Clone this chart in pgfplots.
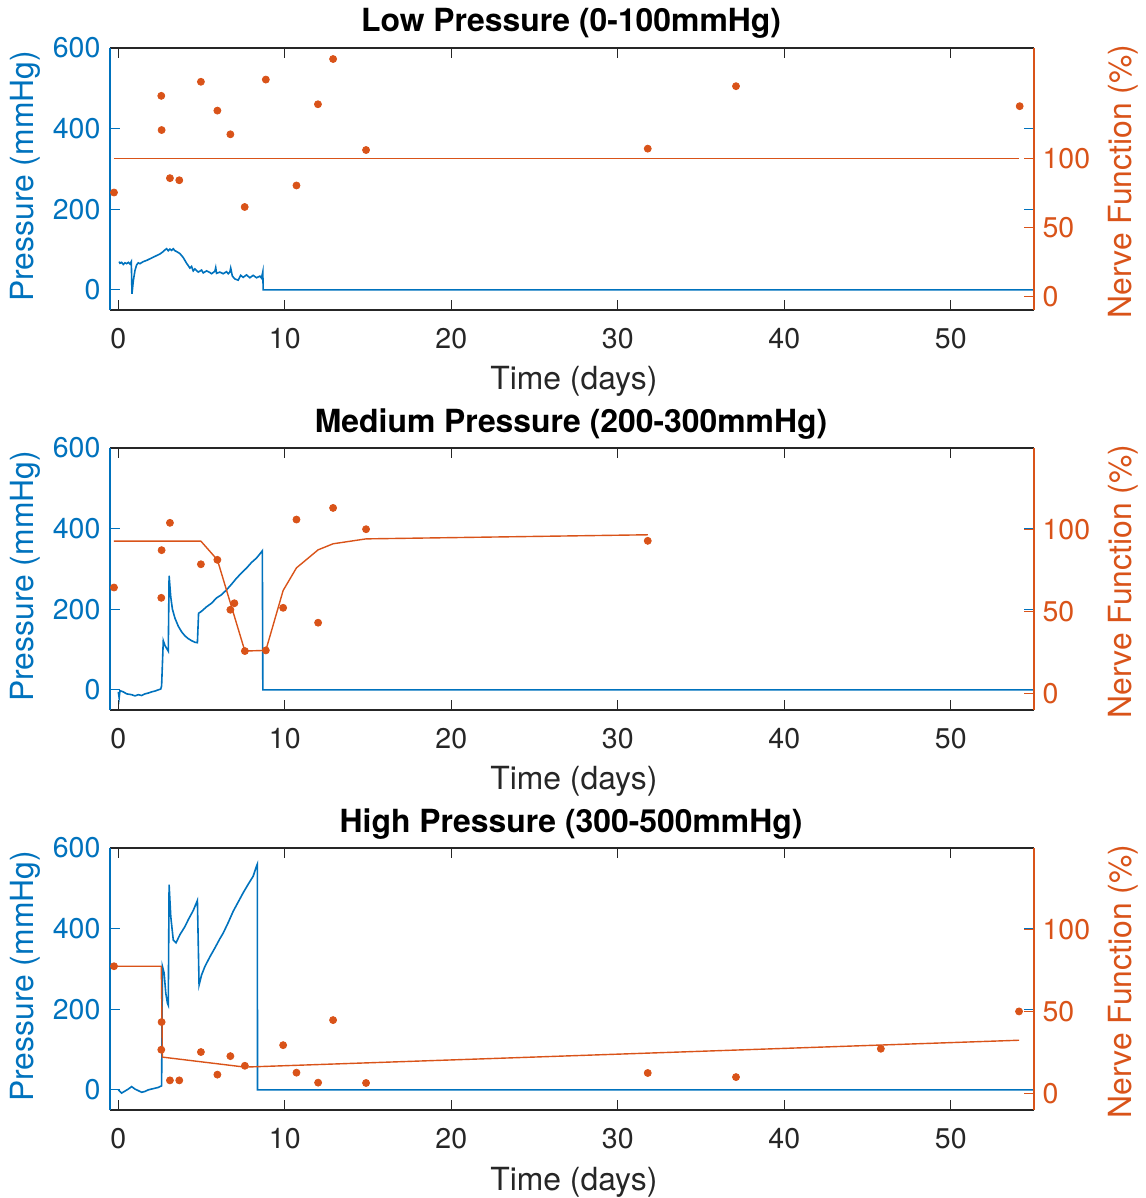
\documentclass[border=0pt]{standalone}
\usepackage{pgfplots}
\pgfplotsset{compat=1.18}
\usepackage{fontspec}
\setmainfont{TeX Gyre Heros}
\definecolor{mblue}{HTML}{0072BD}
\definecolor{morange}{HTML}{D95319}
\definecolor{mgray}{HTML}{262626}

\newcommand{\labfont}{\fontsize{16}{19}\selectfont}
\pgfplotsset{
 base/.style={
  width=462bp, height=131bp, scale only axis,
  xmin=-0.5, xmax=55,
  xtick={0,10,...,50},
  tick align=inside,
  major tick length=5bp,
  /pgf/number format/assume math mode=true,
  tick label style={font=\fontsize{14.3}{16}\selectfont},
  anchor=south west,
 },
 leftax/.style={base,
  separate axis lines,
  x axis line style={draw=mgray, line width=0.6bp, -},
  y axis line style={draw=mblue, line width=0.6bp, -},
  xtick style={draw=mgray, line width=0.6bp},
  ytick style={draw=mblue, line width=0.6bp},
  ymin=-50, ymax=600, ytick={0,200,400,600},
  ytick pos=both, yticklabel pos=left,
  yticklabel style={text=mblue},
  xticklabel style={text=mgray},
  xticklabel shift=5.5bp, yticklabel shift=1.3bp,
  xlabel={Time (days)}, ylabel={Pressure (mmHg)},
  every axis x label/.style={at={(axis description cs:0.502,0)}, anchor=base, yshift=-40bp, text=mgray, font=\labfont},
  every axis y label/.style={at={(axis description cs:-0.0833,0.51)}, rotate=90, anchor=base, text=mblue, font=\labfont},
  every axis title/.style={at={(axis description cs:0.499,1)}, anchor=base, yshift=8bp, text=black, font=\labfont\bfseries},
 },
 rightax/.style={base,
  axis y line*=right, axis x line=none,
  y axis line style={draw=morange, line width=0.6bp, -},
  ytick style={draw=morange, line width=0.6bp},
  ytick={0,50,100},
  ytick pos=right, yticklabel pos=right,
  yticklabel style={text=morange},
  yticklabel shift=0.8bp,
  ylabel={Nerve Function (\%)},
  every axis y label/.style={at={(axis description cs:1.1057,0.49)}, rotate=90, anchor=base, text=morange, font=\labfont},
 },
 pres/.style={mblue, line width=0.8bp, mark=none},
 nline/.style={morange, line width=0.7bp, mark=none},
 ndots/.style={only marks, mark=*, mark size=1.75bp, mark options={fill=morange, draw=morange}},
}

\begin{document}
\begin{tikzpicture}
% ---------------- Panel 1 ----------------
\begin{axis}[leftax, at={(55bp,444bp)}, title={Low Pressure (0-100mmHg)}]
\addplot[pres] coordinates {
(0.05,70) (0.1,66) (0.2,68) (0.3,63) (0.4,67) (0.5,65) (0.6,68) (0.7,64) (0.78,70)
(0.82,-10) (0.9,22) (1.0,48) (1.1,62) (1.2,67) (1.3,65) (1.5,70) (1.7,73) (1.9,77)
(2.1,81) (2.3,85) (2.5,89) (2.7,95) (2.8,99) (2.9,102) (3.0,97) (3.1,101) (3.2,98)
(3.3,102) (3.4,97) (3.5,95) (3.7,90) (3.9,80) (4.1,66) (4.3,54) (4.4,58) (4.5,47)
(4.6,52) (4.8,44) (5.0,49) (5.1,42) (5.3,47) (5.5,43) (5.6,40) (5.8,46) (5.85,55)
(5.9,41) (6.1,44) (6.3,40) (6.5,45) (6.6,40) (6.7,44) (6.75,54) (6.85,34) (7.0,27)
(7.2,24) (7.35,36) (7.5,31) (7.7,37) (7.9,30) (8.1,36) (8.3,30) (8.5,34) (8.6,29)
(8.68,45) (8.7,0) (55,0)
};
\end{axis}
\begin{axis}[rightax, at={(55bp,444bp)}, ymin=-10, ymax=180]
\addplot[nline] coordinates {(-0.26,100) (54.1,100)};
\addplot[ndots] coordinates {
(-0.26,75.2) (2.58,145.3) (2.6,120.5) (3.1,85.6) (3.66,84.1) (4.96,155.5)
(5.95,134.6) (6.73,117.4) (7.59,64.7) (8.86,157.1) (10.7,80.3) (11.99,139.2)
(12.9,172) (14.88,106) (31.8,107) (37.1,152.3) (54.14,137.8)
};
\end{axis}
% ---------------- Panel 2 ----------------
\begin{axis}[leftax, at={(55bp,244bp)}, title={Medium Pressure (200-300mmHg)}]
\addplot[pres] coordinates {
(0,-5) (0.05,-20) (0.1,-2) (0.3,-5) (0.5,-10) (0.8,-12) (1.0,-15) (1.2,-12) (1.4,-14)
(1.6,-10) (1.8,-8) (2.0,-5) (2.2,-3) (2.4,0) (2.55,2) (2.6,10) (2.7,122) (2.8,110)
(3.0,96) (3.05,283) (3.15,230) (3.25,200) (3.4,178) (3.6,158) (3.8,144) (4.0,134)
(4.2,127) (4.4,122) (4.6,118) (4.75,117) (4.82,190) (5.0,195) (5.3,206) (5.6,215)
(5.9,228) (6.2,236) (6.5,248) (6.8,262) (7.1,277) (7.4,290) (7.7,302) (8.0,316)
(8.3,327) (8.5,337) (8.65,345) (8.68,0) (55,0)
};
\end{axis}
\begin{axis}[rightax, at={(55bp,244bp)}, ymin=-10, ymax=150]
\addplot[nline] coordinates {
(-0.26,93.1) (4.96,93.1) (5.95,81.7) (7.6,26) (8.86,26.4) (9.9,63) (10.7,76.8)
(12.0,87.8) (12.9,91.5) (14.88,94.5) (31.8,97)
};
\addplot[ndots] coordinates {
(-0.26,64.8) (2.58,58.5) (2.6,87.6) (3.1,104.3) (4.96,79) (5.95,81.7) (6.73,51.2)
(6.97,55.2) (7.6,26) (8.86,26.4) (9.9,52.4) (10.7,106.3) (12.0,43.3) (12.9,113.4)
(14.88,100.4) (31.8,93.3)
};
\end{axis}
% ---------------- Panel 3 ----------------
\begin{axis}[leftax, at={(55bp,44bp)}, title={High Pressure (300-500mmHg)}]
\addplot[pres] coordinates {
(0,0) (0.2,-8) (0.4,-3) (0.6,2) (0.8,8) (1.0,2) (1.2,-2) (1.4,-6) (1.6,-4) (1.8,0)
(2.0,2) (2.2,4) (2.4,6) (2.6,10) (2.65,306) (2.75,290) (2.85,240) (2.95,215) (3.0,210)
(3.05,509) (3.15,430) (3.3,372) (3.47,365) (3.7,385) (4.0,405) (4.2,422) (4.5,445)
(4.75,470) (4.85,260) (5.0,285) (5.2,306) (5.5,330) (5.8,352) (6.1,375) (6.3,389)
(6.6,415) (6.9,443) (7.2,466) (7.5,489) (7.8,510) (8.1,530) (8.3,555) (8.35,560)
(8.36,0) (55,0)
};
\end{axis}
\begin{axis}[rightax, at={(55bp,44bp)}, ymin=-10, ymax=150]
\addplot[nline] coordinates {
(-0.26,77.8) (2.58,77.8) (2.65,22.3) (7.6,16.2) (54.1,32.6)
};
\addplot[ndots] coordinates {
(-0.26,77.8) (2.6,43.7) (2.58,26.8) (3.1,8.1) (3.66,8.1) (4.96,25.4) (5.95,11.6)
(6.73,22.9) (7.6,17) (9.9,29.6) (10.7,12.8) (12.0,6.7) (12.9,44.9) (14.88,6.5)
(31.8,12.6) (37.1,10.1) (45.8,27.4) (54.1,50.2)
};
\end{axis}
\pgfresetboundingbox
\path[use as bounding box] (0,0) rectangle (573bp,599bp);
\end{tikzpicture}
\end{document}
